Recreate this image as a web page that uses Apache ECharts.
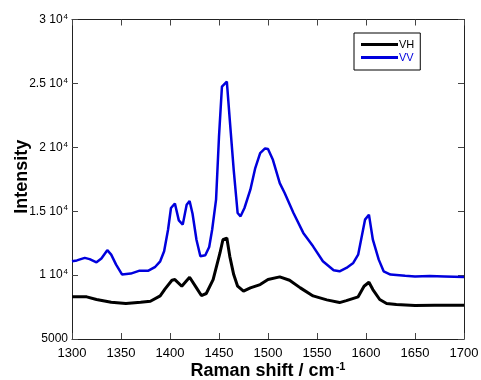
<!DOCTYPE html>
<html><head><meta charset="utf-8">
<script src="https://cdn.jsdelivr.net/npm/echarts@6/dist/echarts.min.js"></script>
<style>html,body{margin:0;padding:0;background:#fff}#c{width:481px;height:380px}</style>
</head><body><div id="c"></div>
<script>
const xVV = [1300,1305,1313,1318,1325,1330,1336,1340,1345,1351,1360,1369,1378,1385,1390,1394,1398,1401,1405,1409,1413,1417,1420,1423,1427,1431,1436,1440,1443,1447,1450,1453,1458,1461,1465,1469,1472,1476,1482,1487,1492,1497,1500,1505,1512,1517,1526,1536,1546,1556,1567,1573,1580,1587,1592,1599,1603,1607,1613,1618,1625,1640,1650,1665,1680,1700];
const yVV = [11080,11150,11350,11250,11000,11300,11950,11600,10820,10050,10120,10350,10350,10650,11080,11860,13550,15250,15600,14280,13950,15500,15800,14800,12770,11470,11550,12200,13550,15900,20840,24750,25140,22150,18240,14860,14600,15250,16680,18375,19550,19910,19860,19020,17200,16420,14860,13300,12250,11080,10375,10300,10560,10950,11600,14340,14730,12770,11210,10300,10040,9950,9900,9920,9900,9860];
const xVH = [1300,1315,1325,1340,1355,1370,1380,1390,1395,1402,1405,1412,1420,1427,1432,1437,1444,1451,1454,1458,1461,1465,1469,1475,1482,1492,1500,1512,1522,1533,1546,1560,1573,1580,1592,1598,1603,1607,1614,1621,1631,1650,1670,1700];
const yVH = [8300,8300,8090,7880,7780,7880,7950,8370,8920,9600,9650,9130,9830,9000,8400,8560,9650,11730,12770,12900,11470,10040,9130,8740,9000,9260,9650,9860,9600,9000,8370,8060,7850,8000,8300,9130,9440,8870,8090,7780,7700,7620,7650,7640];
const xTicks = [1300,1350,1400,1450,1500,1550,1600,1650,1700];
const yTickLabels = {5000:'5000',10000:'1 10',15000:'1.5 10',20000:'2 10',25000:'2.5 10',30000:'3 10'};
const seriesNames = ['VH','VV'];

const zip = (xs, ys) => xs.map((x, i) => [x, ys[i]]);
const axisCommon = {
  axisLine: {show: true, lineStyle: {color: '#222', width: 1}},
  axisTick: {show: true, inside: true, length: 6, lineStyle: {color: '#444'}},
  splitLine: {show: false}
};
const chart = echarts.init(document.getElementById('c'), null, {renderer: 'canvas'});
chart.setOption({
  animation: false,
  backgroundColor: '#fff',
  textStyle: {fontFamily: 'Liberation Sans, Arial, sans-serif'},
  grid: {left: 72, right: 17, top: 19.5, bottom: 41, containLabel: false, outerBoundsMode: 'none'},
  legend: {
    left: 354, top: 33, orient: 'vertical',
    borderColor: '#000', borderWidth: 1, borderRadius: 0,
    padding: [5, 6, 6, 7], itemGap: 0, itemWidth: 37, itemHeight: 3,
    icon: 'rect',
    textStyle: {fontSize: 11, padding: [0, 0, 0, -4], lineHeight: 13},
    data: [
      {name: 'VH', textStyle: {color: '#000'}},
      {name: 'VV', textStyle: {color: '#0000dd'}, itemStyle: {color: '#0000dd'}}
    ]
  },
  xAxis: [
    Object.assign({
      type: 'value', min: 1300, max: 1700, interval: 50, position: 'bottom',
      axisLabel: {fontSize: 13, color: '#000', margin: 8, formatter: v => String(v)},
      name: 'Raman shift / cm{s|-1}', nameLocation: 'middle', nameGap: 22, nameMoveOverlap: false,
      nameTextStyle: {fontSize: 18, fontWeight: 'bold', color: '#000',
        rich: {s: {fontSize: 11, fontWeight: 'bold', color: '#000', verticalAlign: 'top', padding: [0,0,9,1]}}}
    }, axisCommon),
    Object.assign({
      type: 'value', min: 1300, max: 1700, interval: 50, position: 'top',
      axisLabel: {show: false}
    }, axisCommon)
  ],
  yAxis: [
    Object.assign({
      type: 'value', min: 5000, max: 30000, interval: 5000, position: 'left',
      axisLabel: {
        fontSize: 12, color: '#000', margin: 4,
        formatter: v => v === 5000 ? '{a|5000}' : '{a|' + yTickLabels[v] + '}{s|4}',
        rich: {a: {fontSize: 12, color: '#000'}, s: {fontSize: 8, color: '#000', verticalAlign: 'top', padding: [0,0,6,1]}}
      },
      name: 'Intensity', nameLocation: 'middle', nameGap: 41, nameMoveOverlap: false,
      nameTextStyle: {fontSize: 18, fontWeight: 'bold', color: '#000', padding: [0,0,0,5]}
    }, axisCommon),
    Object.assign({
      type: 'value', min: 5000, max: 30000, interval: 5000, position: 'right',
      axisLabel: {show: false}
    }, axisCommon)
  ],
  series: [
    {name: seriesNames[0], type: 'line', data: zip(xVH, yVH), showSymbol: false, symbol: 'none',
     lineStyle: {color: '#000', width: 3}, itemStyle: {color: '#000'}},
    {name: seriesNames[1], type: 'line', data: zip(xVV, yVV), showSymbol: false, symbol: 'none',
     lineStyle: {color: '#0000dd', width: 2.5}, itemStyle: {color: '#0000dd'}}
  ]
});
</script></body></html>
